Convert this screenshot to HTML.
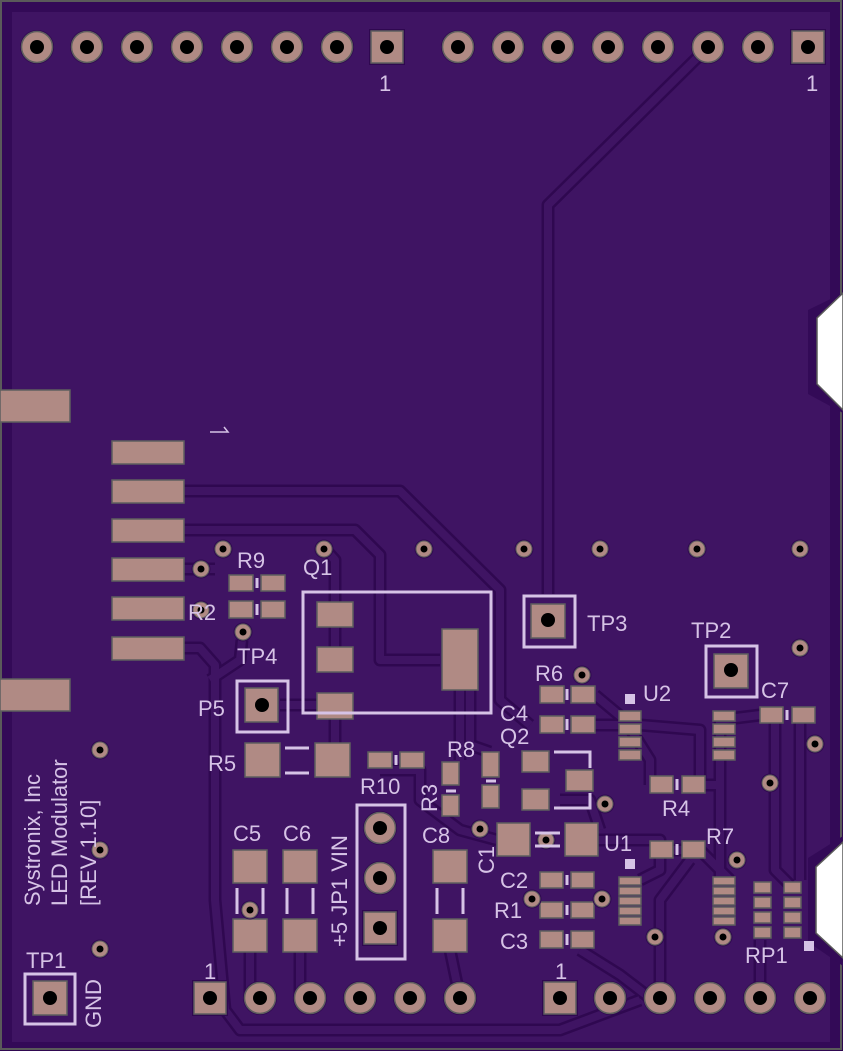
<!DOCTYPE html>
<html><head><meta charset="utf-8"><style>
html,body{margin:0;padding:0;background:#fff}
svg{display:block}
text{font-family:"Liberation Sans",sans-serif;fill:#d6c3e6}
</style></head><body>
<svg width="843" height="1051" viewBox="0 0 843 1051" xmlns="http://www.w3.org/2000/svg">
<defs>
<g id="via"><circle r="9.5" fill="#2f0850"/><circle r="8" fill="#b08a84" stroke="#5e5e5e" stroke-width="1"/><circle r="3.5" fill="#000"/></g>
<g id="th"><circle r="17" fill="#2f0850"/><circle r="15.5" fill="#b08a84" stroke="#5e5e5e" stroke-width="1.5"/><circle r="7" fill="#000"/></g>
<g id="sq"><rect x="-18" y="-18" width="36" height="36" fill="#2f0850"/><rect x="-16" y="-16" width="32" height="32" fill="#b08a84" stroke="#5e5e5e" stroke-width="1.5"/><circle r="7" fill="#000"/></g>
</defs>
<rect x="0" y="0" width="843" height="1051" fill="#2f0850"/>
<rect x="1" y="1" width="840" height="1048" fill="#330a57" stroke="#5a5a5a" stroke-width="2"/>
<rect x="12" y="12" width="818" height="1030" fill="#3f1463"/>
<polygon points="843,293 808,310 808,394 843,413" fill="#330a57"/>
<polygon points="843,293 817,318 817,384 843,410" fill="#fff" stroke="#5a5a5a" stroke-width="1.5"/>
<polygon points="843,836 808,858 808,942 843,966" fill="#330a57"/>
<polygon points="843,842 816,867 816,933 843,958" fill="#fff" stroke="#5a5a5a" stroke-width="1.5"/>

<g fill="none" stroke-linejoin="round">
<g stroke="#2f0850" stroke-width="13">
<path d="M708,47 L548,205 L548,594"/>
<path d="M184,491 L400,491 L500,590 L500,700 L530,725"/>
<path d="M184,530 L355,530 L380,555 L380,660 L440,660"/>
<path d="M184,569 L215,569"/>
<path d="M184,648 L200,648 L215,665 L215,900 L225,1010 L240,1030 L560,1030 L640,1000"/>
<path d="M335,660 L335,560 L325,549"/>
<path d="M280,705 L318,705"/>
<path d="M335,717 L335,743"/>
<path d="M460,690 L460,760"/>
<path d="M470,690 L470,745 L490,752"/>
<path d="M595,695 L625,720 L650,760 L650,785"/>
<path d="M595,725 L640,725 L700,730 L700,780"/>
<path d="M705,785 L720,785 L720,720 L760,715"/>
<path d="M598,840 L660,840 L660,870 L640,880"/>
<path d="M660,850 L700,850 L730,880"/>
<path d="M775,715 L775,870 L790,885"/>
<path d="M800,720 L800,880"/>
<path d="M720,760 L720,880"/>
<path d="M380,770 L420,770 L420,800 L460,830 L497,840"/>
<path d="M250,950 L250,1000"/>
<path d="M300,950 L300,1000"/>
<path d="M450,950 L460,998"/>
<path d="M580,950 L620,975 L650,998"/>
<path d="M690,860 L660,900 L660,1000"/>
<path d="M760,940 L760,998"/>
<path d="M560,800 L590,800 L600,830"/>
<path d="M242,640 L240,660 L210,680"/>
</g>
<g stroke="#3f1463" stroke-width="8">
<path d="M708,47 L548,205 L548,594"/>
<path d="M184,491 L400,491 L500,590 L500,700 L530,725"/>
<path d="M184,530 L355,530 L380,555 L380,660 L440,660"/>
<path d="M184,569 L215,569"/>
<path d="M184,648 L200,648 L215,665 L215,900 L225,1010 L240,1030 L560,1030 L640,1000"/>
<path d="M335,660 L335,560 L325,549"/>
<path d="M280,705 L318,705"/>
<path d="M335,717 L335,743"/>
<path d="M460,690 L460,760"/>
<path d="M470,690 L470,745 L490,752"/>
<path d="M595,695 L625,720 L650,760 L650,785"/>
<path d="M595,725 L640,725 L700,730 L700,780"/>
<path d="M705,785 L720,785 L720,720 L760,715"/>
<path d="M598,840 L660,840 L660,870 L640,880"/>
<path d="M660,850 L700,850 L730,880"/>
<path d="M775,715 L775,870 L790,885"/>
<path d="M800,720 L800,880"/>
<path d="M720,760 L720,880"/>
<path d="M380,770 L420,770 L420,800 L460,830 L497,840"/>
<path d="M250,950 L250,1000"/>
<path d="M300,950 L300,1000"/>
<path d="M450,950 L460,998"/>
<path d="M580,950 L620,975 L650,998"/>
<path d="M690,860 L660,900 L660,1000"/>
<path d="M760,940 L760,998"/>
<path d="M560,800 L590,800 L600,830"/>
<path d="M242,640 L240,660 L210,680"/>
</g>
</g>

<use href="#th" x="37" y="47"/><use href="#th" x="87" y="47"/><use href="#th" x="137" y="47"/><use href="#th" x="187" y="47"/><use href="#th" x="237" y="47"/><use href="#th" x="287" y="47"/><use href="#th" x="337" y="47"/><use href="#sq" x="387" y="47"/>
<use href="#th" x="458" y="47"/><use href="#th" x="508" y="47"/><use href="#th" x="558" y="47"/><use href="#th" x="608" y="47"/><use href="#th" x="658" y="47"/><use href="#th" x="708" y="47"/><use href="#th" x="758" y="47"/><use href="#sq" x="808" y="47"/>
<use href="#sq" x="210" y="998"/><use href="#th" x="260" y="998"/><use href="#th" x="310" y="998"/><use href="#th" x="360" y="998"/><use href="#th" x="410" y="998"/><use href="#th" x="460" y="998"/>
<use href="#sq" x="560" y="998"/><use href="#th" x="610" y="998"/><use href="#th" x="660" y="998"/><use href="#th" x="710" y="998"/><use href="#th" x="760" y="998"/><use href="#th" x="810" y="998"/>
<use href="#th" x="380" y="828"/><use href="#th" x="380" y="878"/><use href="#sq" x="380" y="928"/>

<g fill="#b08a84" stroke="#5e5e5e" stroke-width="1.5">
<rect x="0" y="390" width="70" height="32"/><rect x="0" y="679" width="70" height="32"/>
<rect x="112" y="441" width="72" height="23"/><rect x="112" y="480" width="72" height="23"/><rect x="112" y="519" width="72" height="23"/><rect x="112" y="558" width="72" height="23"/><rect x="112" y="597" width="72" height="23"/><rect x="112" y="637" width="72" height="23"/>
<rect x="229" y="575" width="24" height="16"/><rect x="261" y="575" width="24" height="16"/>
<rect x="229" y="601" width="24" height="17"/><rect x="261" y="601" width="24" height="17"/>
<rect x="317" y="602" width="36" height="25"/><rect x="317" y="647" width="36" height="25"/><rect x="317" y="693" width="36" height="26"/><rect x="442" y="629" width="36" height="61"/>
<rect x="245" y="743" width="35" height="34"/><rect x="315" y="743" width="35" height="34"/>
<rect x="368" y="752" width="24" height="16"/><rect x="400" y="752" width="24" height="16"/>
<rect x="442" y="762" width="17" height="23"/><rect x="442" y="795" width="17" height="21"/>
<rect x="482" y="752" width="17" height="25"/><rect x="482" y="785" width="17" height="23"/>
<rect x="522" y="751" width="27" height="21"/><rect x="522" y="789" width="27" height="21"/><rect x="566" y="770" width="27" height="21"/>
<rect x="540" y="686" width="24" height="17"/><rect x="571" y="686" width="24" height="17"/>
<rect x="540" y="716" width="24" height="17"/><rect x="571" y="716" width="24" height="17"/>
<rect x="619" y="711" width="22" height="10"/><rect x="619" y="724" width="22" height="10"/><rect x="619" y="737" width="22" height="10"/><rect x="619" y="750" width="22" height="10"/>
<rect x="713" y="711" width="22" height="10"/><rect x="713" y="724" width="22" height="10"/><rect x="713" y="737" width="22" height="10"/><rect x="713" y="750" width="22" height="10"/>
<rect x="760" y="707" width="23" height="16"/><rect x="792" y="707" width="23" height="16"/>
<rect x="650" y="776" width="23" height="17"/><rect x="682" y="776" width="23" height="17"/>
<rect x="650" y="841" width="23" height="17"/><rect x="682" y="841" width="23" height="17"/>
<rect x="497" y="823" width="33" height="33"/><rect x="565" y="823" width="33" height="33"/>
<rect x="540" y="872" width="23" height="16"/><rect x="571" y="872" width="23" height="16"/>
<rect x="540" y="902" width="23" height="16"/><rect x="571" y="902" width="23" height="16"/>
<rect x="540" y="931" width="23" height="17"/><rect x="571" y="931" width="23" height="17"/>
<rect x="619" y="877" width="22" height="8"/><rect x="619" y="887" width="22" height="8"/><rect x="619" y="897" width="22" height="8"/><rect x="619" y="907" width="22" height="8"/><rect x="619" y="917" width="22" height="8"/>
<rect x="713" y="877" width="22" height="8"/><rect x="713" y="887" width="22" height="8"/><rect x="713" y="897" width="22" height="8"/><rect x="713" y="907" width="22" height="8"/><rect x="713" y="917" width="22" height="8"/>
<rect x="754" y="882" width="17" height="11"/><rect x="754" y="897" width="17" height="11"/><rect x="754" y="912" width="17" height="11"/><rect x="754" y="927" width="17" height="11"/>
<rect x="784" y="882" width="17" height="11"/><rect x="784" y="897" width="17" height="11"/><rect x="784" y="912" width="17" height="11"/><rect x="784" y="927" width="17" height="11"/>
<rect x="233" y="850" width="34" height="33"/><rect x="233" y="919" width="34" height="33"/>
<rect x="283" y="850" width="34" height="33"/><rect x="283" y="919" width="34" height="33"/>
<rect x="433" y="850" width="34" height="33"/><rect x="433" y="919" width="34" height="33"/>
<rect x="245" y="688" width="33" height="34"/><rect x="531" y="604" width="34" height="34"/><rect x="714" y="654" width="34" height="34"/><rect x="33" y="981" width="34" height="34"/>
</g>
<circle cx="262" cy="705" r="7" fill="#000"/><circle cx="548" cy="620" r="7" fill="#000"/><circle cx="731" cy="670" r="7" fill="#000"/><circle cx="50" cy="998" r="7" fill="#000"/>

<use href="#via" x="223" y="549"/><use href="#via" x="201" y="569"/><use href="#via" x="201" y="610"/><use href="#via" x="243" y="632"/><use href="#via" x="324" y="549"/><use href="#via" x="424" y="549"/><use href="#via" x="524" y="549"/><use href="#via" x="600" y="549"/><use href="#via" x="697" y="549"/><use href="#via" x="800" y="549"/><use href="#via" x="800" y="648"/><use href="#via" x="815" y="744"/><use href="#via" x="770" y="783"/><use href="#via" x="737" y="860"/><use href="#via" x="655" y="937"/><use href="#via" x="723" y="937"/><use href="#via" x="602" y="899"/><use href="#via" x="532" y="899"/><use href="#via" x="605" y="804"/><use href="#via" x="546" y="840"/><use href="#via" x="480" y="829"/><use href="#via" x="250" y="910"/><use href="#via" x="100" y="750"/><use href="#via" x="100" y="850"/><use href="#via" x="100" y="949"/><use href="#via" x="582" y="675"/>

<g fill="none" stroke="#d6c3e6" stroke-width="3">
<rect x="303" y="592" width="188" height="121"/>
<rect x="237" y="681" width="51" height="51"/>
<rect x="524" y="596" width="51" height="51"/>
<rect x="706" y="646" width="51" height="51"/>
<rect x="25" y="974" width="50" height="50"/>
<rect x="357" y="805" width="48" height="154"/>
<path d="M285,748 H309 M285,773 H309"/>
<path d="M237,888 V914 M263,888 V914 M287,888 V914 M313,888 V914 M437,888 V914 M463,888 V914"/>
<path d="M535,833 H560 M535,846 H560"/>
<path d="M554,752 H590 V768 M554,808 H590 V793"/>
<path d="M257,578 V588 M257,604 V615 M396,755 V765 M446,791 H456 M486,781 H496 M567,689 V700 M567,719 V730 M677,779 V790 M677,844 V855 M567,875 V885 M567,905 V915 M567,934 V945 M787,710 V720"/>
</g>
<g fill="#d6c3e6"><rect x="625" y="694" width="10" height="10"/><rect x="625" y="859" width="10" height="10"/><rect x="804" y="941" width="10" height="10"/></g>
<g font-size="22">
<text x="379" y="91">1</text><text x="806" y="91">1</text>
<text x="204" y="979">1</text><text x="555" y="979">1</text>
<text x="237" y="568">R9</text><text x="303" y="575">Q1</text><text x="188" y="620">R2</text>
<text x="237" y="664">TP4</text><text x="198" y="716">P5</text><text x="208" y="771">R5</text>
<text x="360" y="794">R10</text><text x="447" y="757">R8</text>
<text x="587" y="631">TP3</text><text x="691" y="638">TP2</text>
<text x="535" y="681">R6</text><text x="643" y="701">U2</text><text x="761" y="698">C7</text>
<text x="500" y="721">C4</text><text x="500" y="744">Q2</text><text x="662" y="816">R4</text>
<text x="706" y="844">R7</text><text x="604" y="851">U1</text>
<text x="500" y="888">C2</text><text x="494" y="918">R1</text><text x="500" y="949">C3</text>
<text x="233" y="841">C5</text><text x="283" y="841">C6</text><text x="422" y="843">C8</text>
<text x="745" y="963">RP1</text><text x="26" y="968">TP1</text>
<text transform="translate(437,812) rotate(-90)">R3</text>
<text transform="translate(494,874) rotate(-90)">C1</text>
<text transform="translate(347,947) rotate(-90)">+5 JP1 VIN</text>
<text transform="translate(101,1028) rotate(-90)">GND</text>
<text transform="translate(40,906) rotate(-90)">Systronix, Inc</text>
<text transform="translate(67,906) rotate(-90)">LED Modulator</text>
<text transform="translate(96,906) rotate(-90)">[REV 1.10]</text>
</g>
<path d="M210,432 H228 L224,427" fill="none" stroke="#d6c3e6" stroke-width="1.5"/>
</svg>
</body></html>
